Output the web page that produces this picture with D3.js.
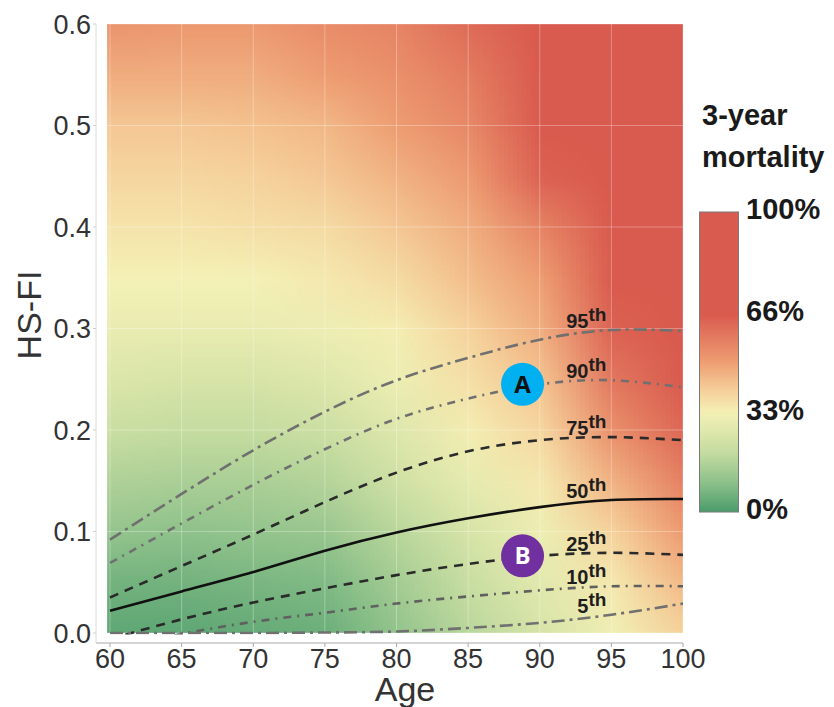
<!DOCTYPE html>
<html>
<head>
<meta charset="utf-8">
<script src="https://cdn.jsdelivr.net/npm/d3@7"></script>
<style>
  body { margin: 0; background: #fff; }
  svg { font-family: "Liberation Sans", Arial, sans-serif; }
</style>
</head>
<body>
<div id="chart"></div>
<script>
// grid of estimated 3-year mortality (%), rows = HS-FI levels, cols = ages
var ages = [60, 65, 70, 75, 80, 85, 90, 95, 100];
var hsfiLevels = [0, 0.05, 0.1, 0.15, 0.2, 0.25, 0.3, 0.35, 0.4, 0.45, 0.5, 0.55, 0.6];
var mortality = [
  [ 3,  3,  4,  5, 11, 18, 25, 32, 40],
  [ 6,  6,  7,  8, 14, 21, 28, 35, 45],
  [11, 10, 11, 12, 18, 25, 31, 40, 51],
  [16, 15, 15, 17, 23, 29, 35, 46, 57],
  [21, 20, 20, 22, 27, 34, 39, 53, 63],
  [26, 25, 25, 27, 31, 37, 43, 59, 68],
  [30, 30, 30, 31, 34, 40, 47, 64, 70],
  [33, 33, 33, 35, 38, 44, 50, 67, 72],
  [36, 36, 37, 38, 42, 47, 56, 70, 73],
  [39, 39, 40, 42, 46, 51, 64, 72, 74],
  [42, 42, 43, 45, 50, 55, 68, 73, 75],
  [47, 47, 47, 50, 53, 58, 70, 74, 75],
  [52, 51, 51, 54, 56, 62, 72, 75, 76]
];

// percentile curves of HS-FI by age
var pctAges = [60, 65, 70, 75, 80, 85, 90, 95, 100];
var p95 = [0.092, 0.137, 0.180, 0.218, 0.249, 0.271, 0.289, 0.2985, 0.2975];
var p90 = [0.069, 0.108, 0.146, 0.181, 0.211, 0.231, 0.245, 0.249, 0.242];
var p75 = [0.035, 0.066, 0.097, 0.129, 0.158, 0.179, 0.190, 0.193, 0.190];
var p50 = [0.022, 0.041, 0.060, 0.081, 0.099, 0.113, 0.124, 0.131, 0.132];
var p25 = [-0.006, 0.0135, 0.030, 0.044, 0.057, 0.068, 0.076, 0.079, 0.077];
var p10 = [-0.015, -0.001, 0.011, 0.020, 0.029, 0.036, 0.042, 0.046, 0.046];
var p5  = [0.000, 0.000, 0.000, 0.0005, 0.0015, 0.005, 0.010, 0.018, 0.029];

var ageTicks = [60, 65, 70, 75, 80, 85, 90, 95, 100];
var hsfiTicks = [0, 0.1, 0.2, 0.3, 0.4, 0.5, 0.6];
var legendTicks = [0, 0.33, 0.66, 1];
var legendLabels = ["0%", "33%", "66%", "100%"];

var annotations = [
  {label: "A", age: 88.8, hsfi: 0.245, fill: "#00b0f0", text: "#111"},
  {label: "B", age: 88.8, hsfi: 0.076, fill: "#7030a0", text: "#fff"}
];

var width = 834, height = 707;

var svg = d3.select("#chart").append("svg")
  .attr("width", width)
  .attr("height", height);

var x = d3.scaleLinear().domain([60, 100]).range([110, 683]);
var y = d3.scaleLinear().domain([0, 0.6]).range([633, 24]);

var color = d3.scaleLinear()
  .domain([0, 0.1, 0.2, 0.33, 0.4, 0.5, 0.66, 1])
  .range(["#4a9c6b", "#8ec18b", "#c5dca0", "#f4f1b6", "#f6d29c", "#ee9d72", "#d95a4e", "#d95a4e"])
  .clamp(true);

var defs = svg.append("defs");
defs.append("clipPath").attr("id", "panel")
  .append("rect")
  .attr("x", x(59.8)).attr("y", y(0.6))
  .attr("width", x(100) - x(59.8))
  .attr("height", y(0) - y(0.6));
defs.append("clipPath").attr("id", "lines")
  .append("rect")
  .attr("x", x(59.8)).attr("y", y(0.6))
  .attr("width", x(100) - x(59.8))
  .attr("height", y(0) - y(0.6) + 1.5);

// heatmap: one pixel per grid value, smoothed when stretched
var canvas = document.createElement("canvas");
canvas.width = ages.length;
canvas.height = hsfiLevels.length;
var ctx = canvas.getContext("2d");
var img = ctx.createImageData(canvas.width, canvas.height);
hsfiLevels.forEach(function(h, i) {
  var row = hsfiLevels.length - 1 - i;
  ages.forEach(function(a, j) {
    var c = d3.rgb(color(mortality[i][j] / 100));
    var k = (row * canvas.width + j) * 4;
    img.data[k] = c.r; img.data[k + 1] = c.g; img.data[k + 2] = c.b; img.data[k + 3] = 255;
  });
});
ctx.putImageData(img, 0, 0);

var halfA = (ages[1] - ages[0]) / 2, halfH = (hsfiLevels[1] - hsfiLevels[0]) / 2;
svg.append("g").attr("clip-path", "url(#panel)")
  .append("image")
  .attr("href", canvas.toDataURL())
  .attr("x", x(ages[0] - halfA))
  .attr("y", y(hsfiLevels[hsfiLevels.length - 1] + halfH))
  .attr("width", x(ages[ages.length - 1] + halfA) - x(ages[0] - halfA))
  .attr("height", y(hsfiLevels[0] - halfH) - y(hsfiLevels[hsfiLevels.length - 1] + halfH))
  .attr("preserveAspectRatio", "none")
  .style("image-rendering", "auto");

// grid lines over the raster
var grid = svg.append("g").attr("clip-path", "url(#panel)");
grid.selectAll("line.v").data(ageTicks).enter().append("line")
  .attr("x1", d => x(d)).attr("x2", d => x(d))
  .attr("y1", y(0.6)).attr("y2", y(0))
  .attr("stroke", "#fff").attr("stroke-opacity", 0.3).attr("stroke-width", 1);
grid.selectAll("line.h").data(hsfiTicks).enter().append("line")
  .attr("x1", x(59.8)).attr("x2", x(100))
  .attr("y1", d => y(d)).attr("y2", d => y(d))
  .attr("stroke", "#fff").attr("stroke-opacity", 0.3).attr("stroke-width", 1);

// axes
var axisX = 96, axisY = 643;
svg.append("line").attr("x1", axisX).attr("x2", x(100)).attr("y1", axisY).attr("y2", axisY)
  .attr("stroke", "#a8a8a8").attr("stroke-width", 1);
svg.append("line").attr("x1", axisX).attr("x2", axisX).attr("y1", y(0.6)).attr("y2", axisY)
  .attr("stroke", "#dcdcdc").attr("stroke-width", 1);

svg.selectAll(".xtick").data(ageTicks).enter().append("line")
  .attr("x1", d => x(d)).attr("x2", d => x(d))
  .attr("y1", axisY).attr("y2", axisY + 4)
  .attr("stroke", "#a8a8a8");
svg.selectAll(".xlab").data(ageTicks).enter().append("text")
  .attr("x", d => x(d)).attr("y", 668)
  .attr("text-anchor", "middle")
  .attr("font-size", 27).attr("fill", "#333")
  .text(d => d);

svg.selectAll(".ytick").data(hsfiTicks).enter().append("line")
  .attr("x1", axisX - 3).attr("x2", axisX)
  .attr("y1", d => y(d)).attr("y2", d => y(d))
  .attr("stroke", "#cfcfcf");
svg.selectAll(".ylab").data(hsfiTicks).enter().append("text")
  .attr("x", 91).attr("y", d => y(d) + 9.5)
  .attr("text-anchor", "end")
  .attr("font-size", 27).attr("fill", "#333")
  .text(d => d3.format(".1f")(d));

svg.append("text")
  .attr("x", 405).attr("y", 701)
  .attr("text-anchor", "middle")
  .attr("font-size", 34).attr("fill", "#333")
  .text("Age");
svg.append("text")
  .attr("transform", "translate(41,315) rotate(-90)")
  .attr("text-anchor", "middle")
  .attr("font-size", 34).attr("fill", "#333")
  .text("HS-FI");

// percentile curves
var curves = [
  {name: "95", values: p95, stroke: "#707070", dash: "13,5,3,5"},
  {name: "90", values: p90, stroke: "#707070", dash: "8,6,2,6"},
  {name: "75", values: p75, stroke: "#2a2a2a", dash: "9,7"},
  {name: "50", values: p50, stroke: "#111", dash: null},
  {name: "25", values: p25, stroke: "#2a2a2a", dash: "9,7"},
  {name: "10", values: p10, stroke: "#606060", dash: "8,6,2,6"},
  {name: "5",  values: p5,  stroke: "#707070", dash: "13,5,3,5"}
];

var line = d3.line()
  .x((d, i) => x(pctAges[i]))
  .y(d => y(d))
  .curve(d3.curveNatural);

svg.append("g").attr("clip-path", "url(#lines)")
  .selectAll("path").data(curves).enter().append("path")
  .attr("d", d => line(d.values))
  .attr("fill", "none")
  .attr("stroke", d => d.stroke)
  .attr("stroke-width", 2.6)
  .attr("stroke-dasharray", d => d.dash);

var labelAge = 95;
var labels = svg.append("g").selectAll("text").data(curves).enter().append("text")
  .attr("x", x(labelAge) - 5)
  .attr("y", d => y(d.values[pctAges.indexOf(labelAge)]) - 2)
  .attr("text-anchor", "end")
  .attr("font-weight", "bold")
  .attr("fill", "#1e1e1e");
labels.append("tspan").attr("font-size", 20).text(d => d.name);
labels.append("tspan").attr("font-size", 19).attr("dy", -7).text("th");

// A / B markers
var marks = svg.append("g").selectAll("g").data(annotations).enter().append("g")
  .attr("transform", d => "translate(" + x(d.age) + "," + y(d.hsfi) + ")");
marks.append("circle").attr("r", 21.5).attr("fill", d => d.fill);
marks.append("text")
  .attr("text-anchor", "middle").attr("dy", 8.5)
  .attr("font-size", 24).attr("font-weight", "bold")
  .attr("font-family", "'Open Sans', sans-serif")
  .attr("fill", d => d.text)
  .text(d => d.label);

// legend
var legend = svg.append("g");
legend.append("text").attr("x", 702).attr("y", 125)
  .attr("font-size", 29).attr("font-weight", "bold").attr("fill", "#1a1a1a").text("3-year");
legend.append("text").attr("x", 702).attr("y", 167)
  .attr("font-size", 29).attr("font-weight", "bold").attr("fill", "#1a1a1a").text("mortality");

var ly = d3.scaleLinear().domain([0, 1]).range([512, 212]);
var grad = defs.append("linearGradient").attr("id", "bar")
  .attr("x1", 0).attr("y1", 1).attr("x2", 0).attr("y2", 0);
grad.selectAll("stop").data(d3.range(0, 1.0001, 0.02)).enter().append("stop")
  .attr("offset", d => d)
  .attr("stop-color", d => color(d));
legend.append("rect")
  .attr("x", 699.5).attr("y", ly(1))
  .attr("width", 39).attr("height", ly(0) - ly(1))
  .attr("fill", "url(#bar)")
  .attr("stroke", "#7a7a7a").attr("stroke-width", 1);
legend.selectAll(".lt").data(legendTicks).enter().append("text")
  .attr("x", 746).attr("y", d => ly(d) + 7)
  .attr("font-size", 29).attr("font-weight", "bold").attr("fill", "#1a1a1a")
  .text((d, i) => legendLabels[i]);
</script>
</body>
</html>
